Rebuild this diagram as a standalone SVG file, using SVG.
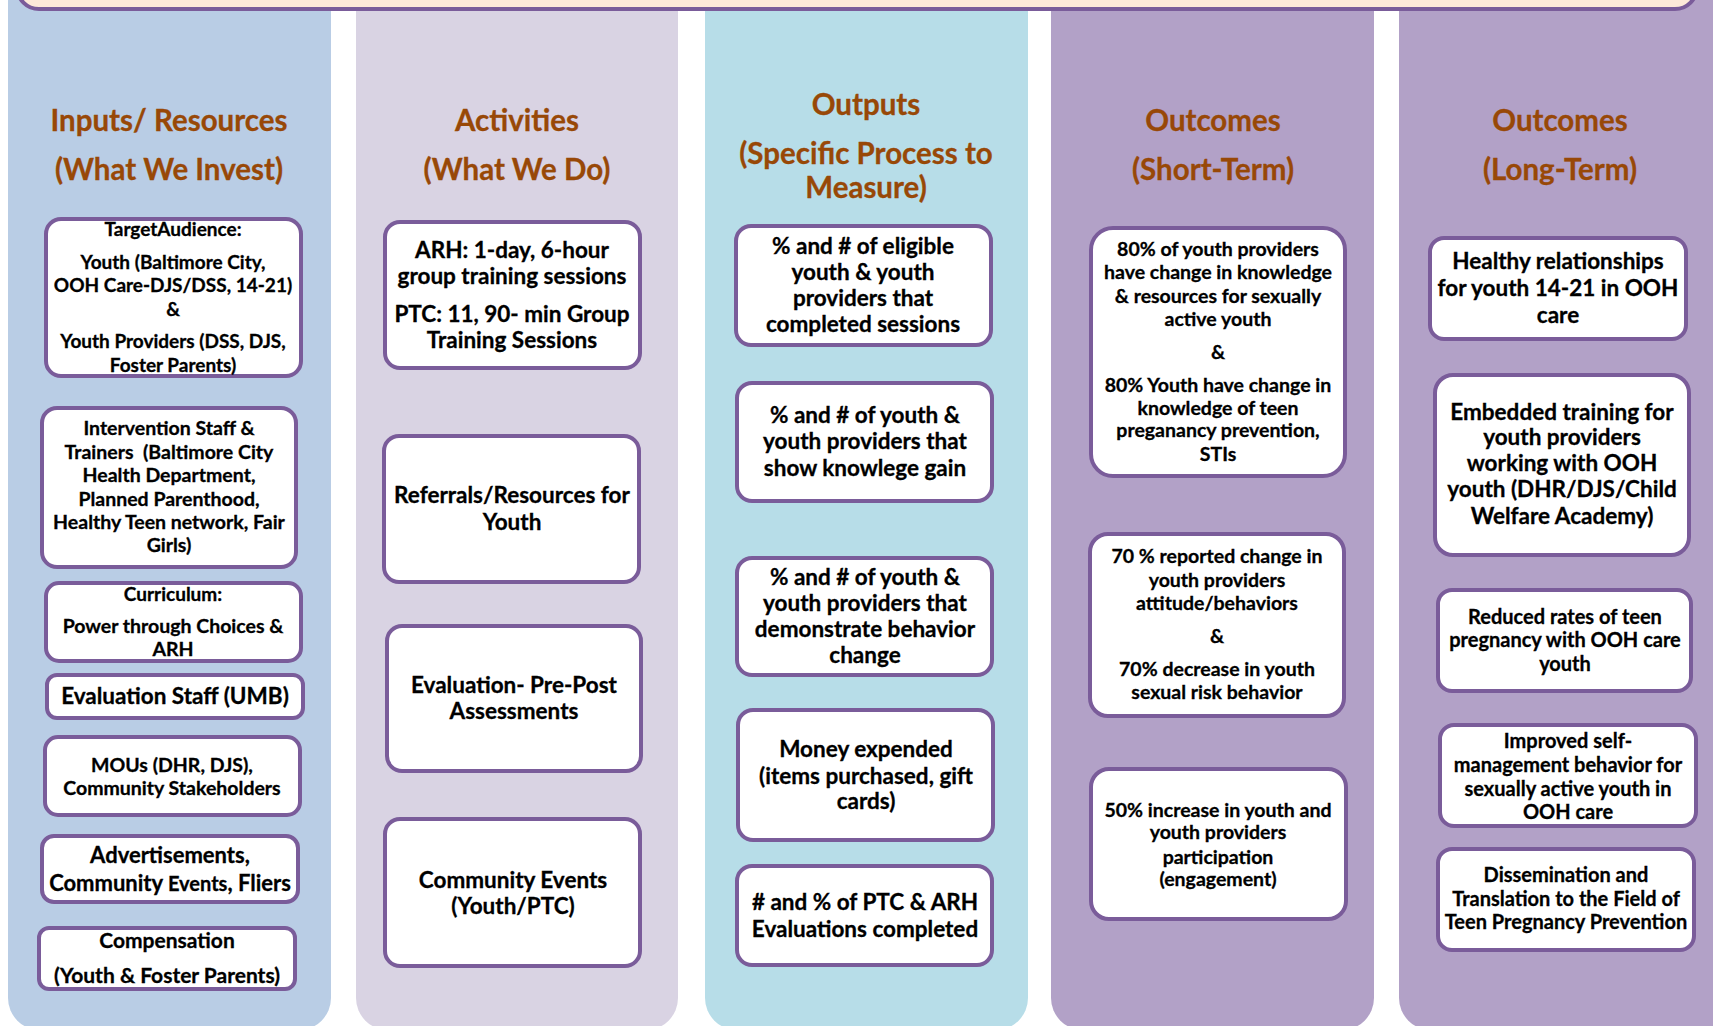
<svg xmlns="http://www.w3.org/2000/svg" width="1713" height="1026" viewBox="0 0 1713 1026">
<style>
.col{stroke:none}
.box{fill:#ffffff;stroke:#7a5c9a;stroke-width:4}
.t{font-family:Lato,"Liberation Sans",Arial,sans-serif;font-weight:bold;fill:#000;text-anchor:middle;stroke:#000;stroke-width:0.3}
.h{font-family:Lato,"Liberation Sans",Arial,sans-serif;font-weight:bold;fill:#984807;text-anchor:middle;font-size:29.5px;stroke:#984807;stroke-width:0.3}
.s19{font-size:19px}.s195{font-size:19.5px}.s20{font-size:20px}.s21{font-size:21px}.s22{font-size:22px}.s225{font-size:22.5px}
</style>
<rect width="1713" height="1026" fill="#ffffff"/>
<g id="columns">
<rect class="col" x="8" y="-30" width="323" height="1060" rx="32" fill="#b9cde5"/>
<rect class="col" x="356" y="-30" width="322" height="1060" rx="32" fill="#d9d3e3"/>
<rect class="col" x="705" y="-30" width="323" height="1060" rx="32" fill="#b7dde8"/>
<rect class="col" x="1051" y="-30" width="323" height="1060" rx="32" fill="#b2a1c7"/>
<rect class="col" x="1399" y="-30" width="360" height="1060" rx="32" fill="#b2a1c7"/>
</g>
<g id="topbar"><rect x="17" y="-40" width="1680" height="49" rx="22" fill="#fde9d9" stroke="#7a5c9a" stroke-width="4"/></g>
<g id="headers">
<text class="h" x="169" y="131">Inputs/ Resources</text>
<text class="h" x="169" y="180">(What We Invest)</text>
<text class="h" x="517" y="131">Activities</text>
<text class="h" x="517" y="180">(What We Do)</text>
<text class="h" x="866" y="115">Outputs</text>
<text class="h" x="866" y="164">(Specific Process to</text>
<text class="h" x="866" y="198">Measure)</text>
<text class="h" x="1213" y="131">Outcomes</text>
<text class="h" x="1213" y="180">(Short-Term)</text>
<text class="h" x="1560" y="131">Outcomes</text>
<text class="h" x="1560" y="180">(Long-Term)</text>
</g>
<g id="connectors"></g>
<g id="n-target">
<rect class="box" x="46" y="219" width="255" height="157" rx="15"/>
<text class="t s19" x="173" y="236">TargetAudience:</text>
<text class="t s19" x="173" y="269">Youth (Baltimore City,</text>
<text class="t s19" x="173" y="292">OOH Care-DJS/DSS, 14-21)</text>
<text class="t s19" x="173" y="316">&amp;</text>
<text class="t s19" x="173" y="348">Youth Providers (DSS, DJS,</text>
<text class="t s19" x="173" y="372">Foster Parents)</text>
</g>
<g id="n-staff">
<rect class="box" x="42" y="408" width="254" height="159" rx="15"/>
<text class="t s195" x="169" y="435">Intervention Staff &amp;</text>
<text class="t s195" x="169" y="459" xml:space="preserve">Trainers  (Baltimore City</text>
<text class="t s195" x="169" y="482">Health Department,</text>
<text class="t s195" x="169" y="506">Planned Parenthood,</text>
<text class="t s195" x="169" y="529">Healthy Teen network, Fair</text>
<text class="t s195" x="169" y="552">Girls)</text>
</g>
<g id="n-curriculum">
<rect class="box" x="46" y="583" width="255" height="78" rx="13"/>
<text class="t s19" x="173" y="601">Curriculum:</text>
<text class="t s195" x="173" y="633">Power through Choices &amp;</text>
<text class="t s195" x="173" y="656">ARH</text>
</g>
<g id="n-evalstaff">
<rect class="box" x="47" y="675" width="256" height="43" rx="10"/>
<text class="t s225" x="175" y="704">Evaluation Staff (UMB)</text>
</g>
<g id="n-mous">
<rect class="box" x="45" y="737" width="255" height="78" rx="13"/>
<text class="t s195" x="172" y="772">MOUs (DHR, DJS),</text>
<text class="t s195" x="172" y="795">Community Stakeholders</text>
</g>
<g id="n-ads">
<rect class="box" x="42" y="836" width="256" height="66" rx="12"/>
<text class="t s22" x="170" y="863">Advertisements,</text>
<text class="t s22" x="170" y="891">Community <tspan font-size="20">Events</tspan>, Fliers</text>
</g>
<g id="n-comp">
<rect class="box" x="39" y="928" width="256" height="61" rx="10"/>
<text class="t s21" x="167" y="948">Compensation</text>
<text class="t s21" x="167" y="983">(Youth &amp; Foster Parents)</text>
</g>
<g id="n-arh">
<rect class="box" x="385" y="222" width="255" height="146" rx="15"/>
<text class="t s225" x="512" y="258">ARH: 1-day, 6-hour</text>
<text class="t s225" x="512" y="284">group training sessions</text>
<text class="t s225" x="512" y="322">PTC: 11, 90- min Group</text>
<text class="t s225" x="512" y="348">Training Sessions</text>
</g>
<g id="n-referrals">
<rect class="box" x="384" y="436" width="255" height="146" rx="15"/>
<text class="t s225" x="512" y="503">Referrals/Resources for</text>
<text class="t s225" x="512" y="530">Youth</text>
</g>
<g id="n-evalprepost">
<rect class="box" x="387" y="626" width="254" height="145" rx="15"/>
<text class="t s225" x="514" y="693">Evaluation- Pre-Post</text>
<text class="t s225" x="514" y="719">Assessments</text>
</g>
<g id="n-events">
<rect class="box" x="385" y="819" width="255" height="147" rx="15"/>
<text class="t s225" x="513" y="888">Community Events</text>
<text class="t s225" x="513" y="914">(Youth/PTC)</text>
</g>
<g id="n-eligible">
<rect class="box" x="736" y="226" width="255" height="119" rx="15"/>
<text class="t s225" x="863" y="254">% and # of eligible</text>
<text class="t s225" x="863" y="280">youth &amp; youth</text>
<text class="t s225" x="863" y="306">providers that</text>
<text class="t s225" x="863" y="332">completed sessions</text>
</g>
<g id="n-knowledge">
<rect class="box" x="737" y="383" width="255" height="118" rx="15"/>
<text class="t s225" x="865" y="423">% and # of youth &amp;</text>
<text class="t s225" x="865" y="449">youth providers that</text>
<text class="t s225" x="865" y="476">show knowlege gain</text>
</g>
<g id="n-behavior">
<rect class="box" x="737" y="558" width="255" height="117" rx="15"/>
<text class="t s225" x="865" y="585">% and # of youth &amp;</text>
<text class="t s225" x="865" y="611">youth providers that</text>
<text class="t s225" x="865" y="637">demonstrate behavior</text>
<text class="t s225" x="865" y="663">change</text>
</g>
<g id="n-money">
<rect class="box" x="738" y="710" width="255" height="130" rx="15"/>
<text class="t s225" x="866" y="757">Money expended</text>
<text class="t s225" x="866" y="784">(items purchased, gift</text>
<text class="t s225" x="866" y="809">cards)</text>
</g>
<g id="n-evals">
<rect class="box" x="737" y="866" width="255" height="99" rx="15"/>
<text class="t s225" x="865" y="910"># and % of PTC &amp; ARH</text>
<text class="t s225" x="865" y="937">Evaluations completed</text>
</g>
<g id="n-short1">
<rect class="box" x="1091" y="228" width="254" height="248" rx="22"/>
<text class="t s195" x="1218" y="256">80% of youth providers</text>
<text class="t s195" x="1218" y="279">have change in knowledge</text>
<text class="t s195" x="1218" y="303">&amp; resources for sexually</text>
<text class="t s195" x="1218" y="326">active youth</text>
<text class="t s195" x="1218" y="359">&amp;</text>
<text class="t s195" x="1218" y="392">80% Youth have change in</text>
<text class="t s195" x="1218" y="415">knowledge of teen</text>
<text class="t s195" x="1218" y="437">preganancy prevention,</text>
<text class="t s195" x="1218" y="461">STIs</text>
</g>
<g id="n-short2">
<rect class="box" x="1090" y="534" width="254" height="182" rx="18"/>
<text class="t s195" x="1217" y="563">70 % reported change in</text>
<text class="t s195" x="1217" y="587">youth providers</text>
<text class="t s195" x="1217" y="610">attitude/behaviors</text>
<text class="t s195" x="1217" y="643">&amp;</text>
<text class="t s195" x="1217" y="676">70% decrease in youth</text>
<text class="t s195" x="1217" y="699">sexual risk behavior</text>
</g>
<g id="n-short3">
<rect class="box" x="1091" y="769" width="255" height="150" rx="18"/>
<text class="t s195" x="1218" y="817">50% increase in youth and</text>
<text class="t s195" x="1218" y="839">youth providers</text>
<text class="t s195" x="1218" y="864">participation</text>
<text class="t s195" x="1218" y="886">(engagement)</text>
</g>
<g id="n-long1">
<rect class="box" x="1430" y="238" width="256" height="101" rx="14"/>
<text class="t s225" x="1558" y="269">Healthy relationships</text>
<text class="t s225" x="1558" y="296">for youth 14-21 in OOH</text>
<text class="t s225" x="1558" y="323">care</text>
</g>
<g id="n-long2">
<rect class="box" x="1435" y="375" width="254" height="180" rx="18"/>
<text class="t s225" x="1562" y="420">Embedded training for</text>
<text class="t s225" x="1562" y="445">youth providers</text>
<text class="t s225" x="1562" y="471">working with OOH</text>
<text class="t s225" x="1562" y="497">youth (DHR/DJS/Child</text>
<text class="t s225" x="1562" y="524">Welfare Academy)</text>
</g>
<g id="n-long3">
<rect class="box" x="1438" y="590" width="253" height="101" rx="14"/>
<text class="t s20" x="1565" y="624">Reduced rates of teen</text>
<text class="t s20" x="1565" y="647">pregnancy with OOH care</text>
<text class="t s20" x="1565" y="671">youth</text>
</g>
<g id="n-long4">
<rect class="box" x="1440" y="725" width="256" height="101" rx="14"/>
<text class="t s20" x="1568" y="748">Improved self-</text>
<text class="t s20" x="1568" y="772">management behavior for</text>
<text class="t s20" x="1568" y="796">sexually active youth in</text>
<text class="t s20" x="1568" y="819">OOH care</text>
</g>
<g id="n-long5">
<rect class="box" x="1438" y="849" width="256" height="101" rx="14"/>
<text class="t s20" x="1566" y="882">Dissemination and</text>
<text class="t s20" x="1566" y="906">Translation to the Field of</text>
<text class="t s20" x="1566" y="929">Teen Pregnancy Prevention</text>
</g>
</svg>
